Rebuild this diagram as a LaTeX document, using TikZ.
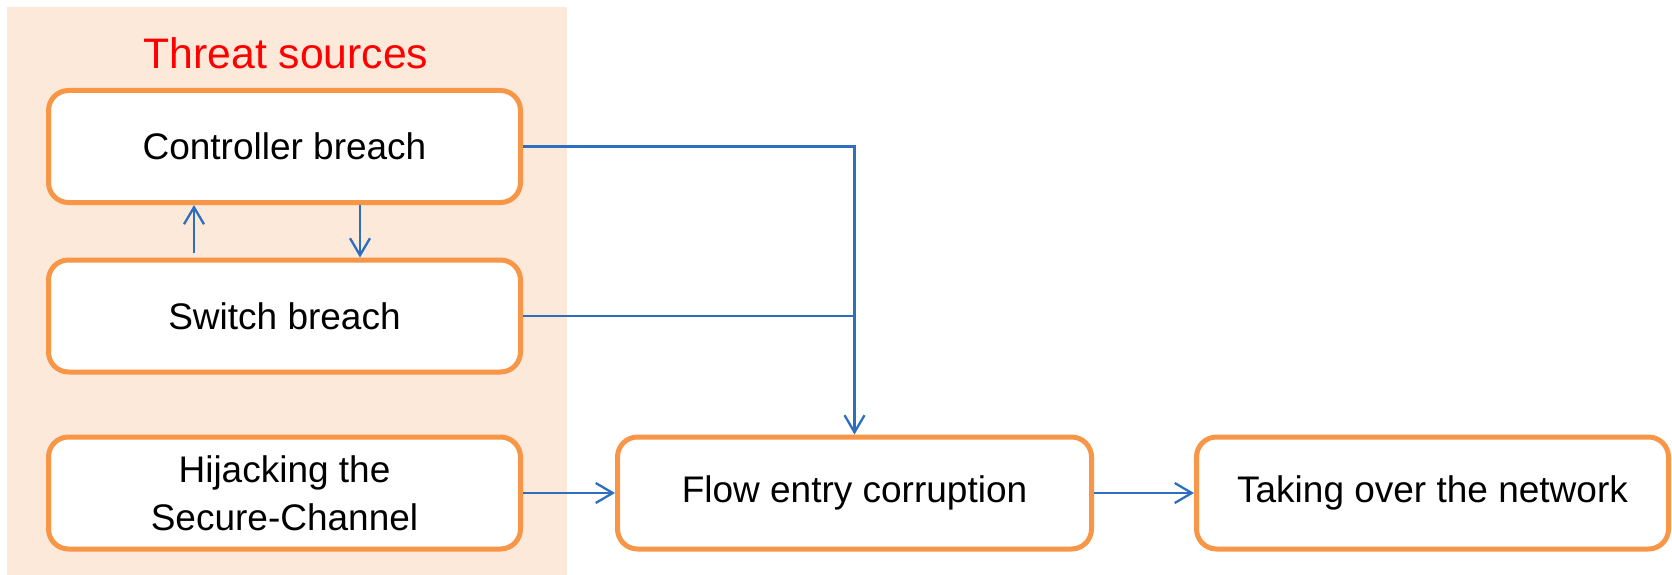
\documentclass[tikz,border=0pt]{standalone}
\usepackage{fontspec}
\setmainfont{Liberation Sans}
\usetikzlibrary{arrows.meta}
\definecolor{bgpeach}{HTML}{FDE9D9}
\definecolor{boxorange}{HTML}{F79646}
\definecolor{linkblue}{RGB}{46,110,190}
\definecolor{titlered}{RGB}{255,0,0}
\tikzset{
  stepbox/.style={draw=boxorange, line width=5pt, fill=white, rounded corners=20pt,
    minimum width=472pt, minimum height=112pt, inner sep=0pt, align=center,
    font=\fontsize{37}{48}\selectfont},
  link/.style={draw=linkblue, line width=2.3pt},
  arr/.style={link, -{Straight Barb[length=17pt,width=20pt,line width=2.3pt]}},
}
\begin{document}
\begin{tikzpicture}[x=1pt,y=-1pt]
\useasboundingbox (0,0) rectangle (1672,575);
\fill[bgpeach] (7,7) rectangle (567,575);
\node[text=titlered, font=\fontsize{42.7}{50}\selectfont] (title) at (286,53) {Threat sources};
\node[stepbox] (ctrl) at (284.5,146.5) {Controller breach};
\node[stepbox] (sw) at (284.5,316) {Switch breach};
\node[stepbox] (hij) at (284.5,493) {Hijacking the\\Secure-Channel};
\node[stepbox, minimum width=474pt] (flow) at (854.5,493) {Flow entry corruption};
\node[stepbox] (take) at (1432.5,493) {Taking over the network};
\coordinate (upx) at (194,253);
\coordinate (downx) at (360,0);
\draw[arr] (upx) -- (upx |- ctrl.south);
\draw[arr] (ctrl.south -| downx) -- (sw.north -| downx);
\draw[arr] (ctrl.east) -| (flow.north);
\draw[link] (sw.east) -- (sw.east -| flow.north);
\draw[arr] (hij.east) -- (flow.west);
\draw[arr] (flow.east) -- (take.west);
\end{tikzpicture}
\end{document}
